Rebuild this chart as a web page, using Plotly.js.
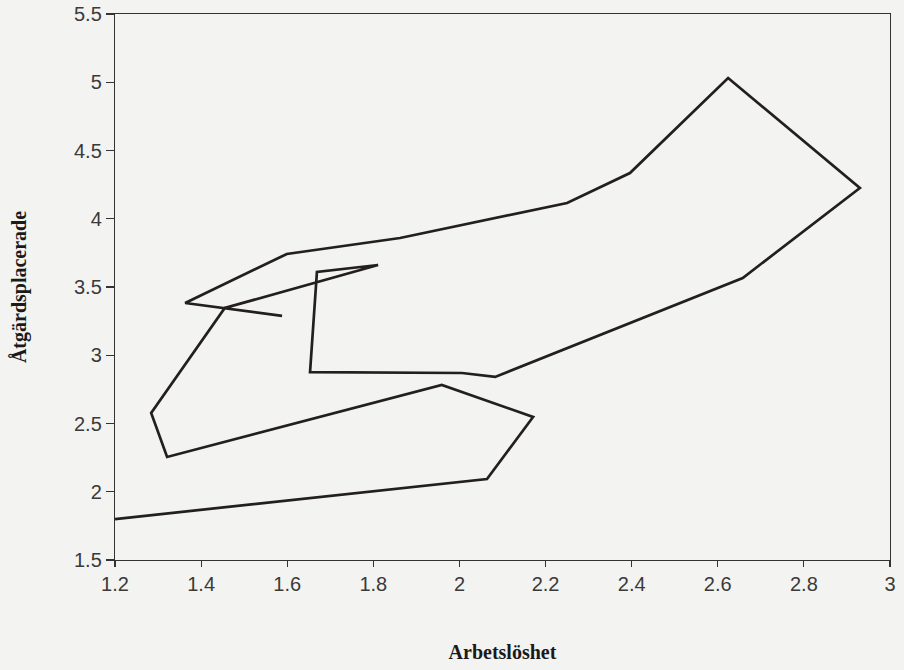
<!DOCTYPE html>
<html>
<head>
<meta charset="utf-8">
<script src="https://cdn.plot.ly/plotly-3.0.1.min.js"></script>
<style>html,body{margin:0;padding:0;background:#f3f3f1;}#chart{width:904px;height:670px;}</style>
</head>
<body>
<div id="chart"></div>
<script>
// Arbetslöshet (x) vs Åtgärdsplacerade (y), path in time order
const arbetsloshet = [1.200, 2.064, 2.171, 1.959, 1.321, 1.284, 1.455, 1.811, 1.669, 1.653, 2.006, 2.083, 2.658, 2.930, 2.624, 2.396, 2.250, 1.862, 1.599, 1.363, 1.588];
const atgardsplacerade = [1.80, 2.093, 2.548, 2.782, 2.255, 2.577, 3.346, 3.661, 3.610, 2.877, 2.870, 2.841, 3.566, 4.225, 5.031, 4.335, 4.115, 3.859, 3.742, 3.383, 3.288];
const xTicks = [1.2, 1.4, 1.6, 1.8, 2, 2.2, 2.4, 2.6, 2.8, 3];
const yTicks = [1.5, 2, 2.5, 3, 3.5, 4, 4.5, 5, 5.5];

const trace = {
  x: arbetsloshet,
  y: atgardsplacerade,
  type: 'scatter',
  mode: 'lines',
  line: {color: '#231f20', width: 2.7},
  hoverinfo: 'x+y'
};

const tickFont = {family: 'Liberation Sans, Arial, sans-serif', size: 20, color: '#3a3a3a'};
const titleFont = {family: 'Liberation Serif, Times New Roman, serif', size: 20, color: '#1a1a1a', weight: 'bold'};

const layout = {
  width: 904, height: 670,
  paper_bgcolor: '#f3f3f1',
  plot_bgcolor: '#f3f3f1',
  margin: {l: 115, r: 14, t: 14, b: 110},
  showlegend: false,
  xaxis: {
    range: [1.2, 3],
    tickvals: xTicks,
    ticktext: xTicks.map(String),
    showgrid: false, zeroline: false,
    showline: true, linecolor: '#333', linewidth: 1.2, mirror: true,
    ticks: 'outside', ticklen: 6, tickcolor: '#333', tickwidth: 1.2,
    tickfont: tickFont,
    title: {text: '<b>Arbetslöshet</b>', font: titleFont, standoff: 50}
  },
  yaxis: {
    range: [1.5, 5.5],
    tickvals: yTicks,
    ticktext: yTicks.map(String),
    showgrid: false, zeroline: false,
    showline: true, linecolor: '#333', linewidth: 1.2, mirror: true,
    ticks: 'outside', ticklen: 8, tickcolor: '#333', tickwidth: 1.2,
    tickfont: tickFont,
    title: {text: '<b>Åtgärdsplacerade</b>', font: titleFont, standoff: 42}
  }
};

Plotly.newPlot('chart', [trace], layout, {displayModeBar: false, staticPlot: true});
</script>
</body>
</html>
